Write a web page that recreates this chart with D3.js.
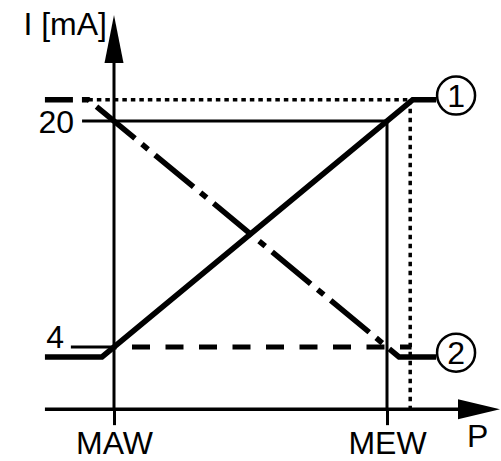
<!DOCTYPE html>
<html>
<head>
<meta charset="utf-8">
<script src="https://cdn.jsdelivr.net/npm/d3@7"></script>
<style>
  html, body { margin: 0; padding: 0; background: #fff; }
  svg { display: block; }
  text { font-family: "Liberation Sans", Arial, sans-serif; fill: #000; }
</style>
</head>
<body>
<svg id="chart" width="501" height="461"></svg>
<script>
// ---- data ----
const pressureLabels = ["MAW", "MEW"];        // x-axis marks
const pressureValues = [0, 100];              // % of span
const currentTicks = [4, 20];                 // mA tick values
const currentTickLabels = ["4", "20"];
const axisTitleY = "I [mA]";
const axisTitleX = "P";
// output 1 (rising) and output 2 (falling), [P, I]
const output1 = [[-25.3, 3.3], [-4.4, 3.3], [109.4, 21.5], [118, 21.5]];
const output2 = [[-25.3, 21.5], [-9.4, 21.5], [104.4, 3.3], [118, 3.3]];
const seriesLabels = ["1", "2"];
const seriesLabelPos = [[125.3, 21.8], [125.3, 3.6]];
const saturationHigh = 21.5;
const saturationP = 108.5;
const xRange = [-25.3, 141.4];   // P axis extent
const yRange = [-0.4, 27.5];     // I axis extent (axis baseline, arrow tip)

// ---- scales ----
const x = d3.scaleLinear().domain([0, 100]).range([114, 387]);
const y = d3.scaleLinear().domain([4, 20]).range([347, 121]);

const svg = d3.select("#chart");
const thin = 3, thick = 5.5, axisW = 3.5;

// guide lines (thin)
svg.append("line")
  .attr("x1", x(-11.7)).attr("x2", x(100))
  .attr("y1", y(20)).attr("y2", y(20))
  .attr("stroke", "#000").attr("stroke-width", thin);
svg.append("line")
  .attr("x1", x(-15.8)).attr("x2", x(0))
  .attr("y1", y(4)).attr("y2", y(4))
  .attr("stroke", "#000").attr("stroke-width", thin);
svg.append("line")
  .attr("x1", x(100)).attr("x2", x(100))
  .attr("y1", y(20)).attr("y2", y(yRange[0]))
  .attr("stroke", "#000").attr("stroke-width", thin);
svg.append("line")
  .attr("x1", x(0)).attr("x2", x(0))
  .attr("y1", y(yRange[1]) + 20).attr("y2", y(yRange[0]))
  .attr("stroke", "#000").attr("stroke-width", thin);

// dotted saturation lines
svg.append("line")
  .attr("x1", x(-9.4)).attr("x2", x(saturationP))
  .attr("y1", y(saturationHigh)).attr("y2", y(saturationHigh))
  .attr("stroke", "#000").attr("stroke-width", 3.5)
  .attr("stroke-dasharray", "4.5,4");
svg.append("line")
  .attr("x1", x(saturationP)).attr("x2", x(saturationP))
  .attr("y1", y(saturationHigh)).attr("y2", y(yRange[0]))
  .attr("stroke", "#000").attr("stroke-width", 3.5)
  .attr("stroke-dasharray", "4.5,4.5");

// dashed 4 mA line
svg.append("line")
  .attr("x1", x(0)).attr("x2", x(109))
  .attr("y1", y(4)).attr("y2", y(4))
  .attr("stroke", "#000").attr("stroke-width", 5)
  .attr("stroke-dasharray", "18,15.5")
  .attr("stroke-dashoffset", 15.5);

// x axis with ticks
const xAxis = d3.axisBottom(x)
  .tickValues(pressureValues)
  .tickFormat((d, i) => pressureLabels[i])
  .tickSize(16)
  .tickPadding(6);
const gx = svg.append("g")
  .attr("transform", `translate(0,${y(yRange[0])})`)
  .call(xAxis);
gx.select(".domain").remove();
gx.selectAll(".tick line").attr("stroke", "#000").attr("stroke-width", thin);
gx.selectAll(".tick text")
  .attr("font-size", 32).attr("font-family", "Liberation Sans, Arial, sans-serif")
  .attr("fill", "#000").attr("dy", "0.71em");

svg.append("line")
  .attr("x1", x(xRange[0])).attr("x2", x(xRange[1]) - 30)
  .attr("y1", y(yRange[0])).attr("y2", y(yRange[0]))
  .attr("stroke", "#000").attr("stroke-width", axisW);

// arrowheads
const xa = x(xRange[1]), ya = y(yRange[0]);
svg.append("polygon")
  .attr("points", `${xa},${ya} ${xa - 42},${ya - 10} ${xa - 42},${ya + 10}`)
  .attr("fill", "#000");
const yx = x(0), yt = y(yRange[1]);
svg.append("polygon")
  .attr("points", `${yx},${yt} ${yx - 9.5},${yt + 48} ${yx + 9.5},${yt + 48}`)
  .attr("fill", "#000");

// series
const line = d3.line().x(d => x(d[0])).y(d => y(d[1]));
svg.append("path")
  .attr("d", line(output1))
  .attr("fill", "none").attr("stroke", "#000").attr("stroke-width", thick)
  .attr("stroke-linejoin", "miter");
svg.append("path")
  .attr("d", line(output2))
  .attr("fill", "none").attr("stroke", "#000").attr("stroke-width", thick)
  .attr("stroke-dasharray", "50,9,8,9")
  .attr("stroke-dashoffset", 22);

// series label circles
const lab = svg.selectAll("g.lab").data(seriesLabels).enter().append("g").attr("class", "lab");
lab.append("circle")
  .attr("cx", (d, i) => x(seriesLabelPos[i][0]))
  .attr("cy", (d, i) => y(seriesLabelPos[i][1]))
  .attr("r", 19)
  .attr("fill", "#fff").attr("stroke", "#000").attr("stroke-width", 2.5);
lab.append("text")
  .attr("x", (d, i) => x(seriesLabelPos[i][0]))
  .attr("y", (d, i) => y(seriesLabelPos[i][1]))
  .attr("dy", "0.36em")
  .attr("text-anchor", "middle")
  .attr("font-size", 32)
  .text(d => d);

// y tick labels
svg.append("text")
  .attr("x", 74).attr("y", y(currentTicks[1]))
  .attr("dy", "0.36em")
  .attr("text-anchor", "end").attr("font-size", 32)
  .text(currentTickLabels[1]);
svg.append("text")
  .attr("x", 64).attr("y", y(currentTicks[0]) + 1)
  .attr("text-anchor", "end").attr("font-size", 32)
  .text(currentTickLabels[0]);

// axis titles
svg.append("text")
  .attr("x", 107).attr("y", 35)
  .attr("text-anchor", "end").attr("font-size", 32)
  .text(axisTitleY);
svg.append("text")
  .attr("x", 467).attr("y", 447)
  .attr("font-size", 32)
  .text(axisTitleX);
</script>
</body>
</html>
